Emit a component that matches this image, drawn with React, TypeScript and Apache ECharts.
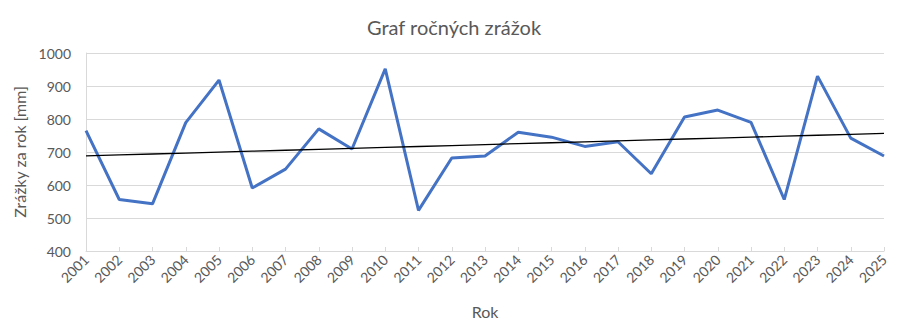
import React, { useEffect, useRef } from "react";
import * as echarts from "echarts";

const years = ["2001","2002","2003","2004","2005","2006","2007","2008","2009","2010","2011","2012","2013","2014","2015","2016","2017","2018","2019","2020","2021","2022","2023","2024","2025"];
const rainfall = [765,556,543,789,918,591,648,770,709,952,523,682,688,760,745,717,731,634,806,827,790,556,930,742,688];
const yTicks = { min: 400, max: 1000, interval: 100 };

function linearTrend(values: number[]): number[] {
  const n = values.length;
  const mx = (n - 1) / 2;
  const my = values.reduce((a, b) => a + b, 0) / n;
  let sxy = 0, sxx = 0;
  values.forEach((v, i) => { sxy += (i - mx) * (v - my); sxx += (i - mx) * (i - mx); });
  const slope = sxy / sxx;
  return values.map((_, i) => my + slope * (i - mx));
}

const FONT = "Lato, 'Open Sans', sans-serif";

export default function App() {
  const ref = useRef<HTMLDivElement>(null);
  useEffect(() => {
    if (!ref.current) return;
    const chart = echarts.init(ref.current, undefined, { renderer: "svg" });
    chart.setOption({
      animation: false,
      backgroundColor: "#ffffff",
      textStyle: { fontFamily: FONT },
      title: {
        text: "Graf ročných zrážok",
        left: "center",
        top: 12,
        textStyle: { fontFamily: FONT, fontSize: 20, fontWeight: "normal", color: "#595959" },
      },
      grid: { left: 86, right: 24, top: 53, bottom: 85 },
      xAxis: {
        type: "category",
        data: years,
        boundaryGap: false,
        axisLine: { show: true, lineStyle: { color: "#d9d9d9", width: 1 } },
        axisTick: { show: true, inside: true, length: 4, lineStyle: { color: "#d9d9d9" } },
        axisLabel: { rotate: 45, fontSize: 14, color: "#595959", margin: 6, fontFamily: FONT, interval: 0 },
        name: "Rok",
        nameLocation: "middle",
        nameGap: 52,
        nameTextStyle: { fontSize: 16, color: "#595959", fontFamily: FONT },
      },
      yAxis: {
        type: "value",
        min: yTicks.min,
        max: yTicks.max,
        interval: yTicks.interval,
        axisLine: { show: true, lineStyle: { color: "#d9d9d9", width: 1 } },
        axisTick: { show: false },
        splitLine: { show: true, lineStyle: { color: "#d9d9d9", width: 1 } },
        axisLabel: { fontSize: 14, color: "#595959", margin: 15, fontFamily: FONT, formatter: (v: number) => String(v) },
        name: "Zrážky za rok [mm]",
        nameLocation: "middle",
        nameGap: 51,
        nameRotate: 90,
        nameTextStyle: { fontSize: 16, color: "#595959", fontFamily: FONT },
      },
      series: [
        {
          type: "line",
          data: rainfall,
          symbol: "none",
          lineStyle: { color: "#4472C4", width: 3 },
          z: 2,
        },
        {
          type: "line",
          data: linearTrend(rainfall),
          symbol: "none",
          lineStyle: { color: "#000000", width: 1.3 },
          z: 3,
        },
      ],
    });
    return () => chart.dispose();
  }, []);
  return <div ref={ref} style={{ position: "fixed", left: 0, top: 0, width: 908, height: 336 }} />;
}
